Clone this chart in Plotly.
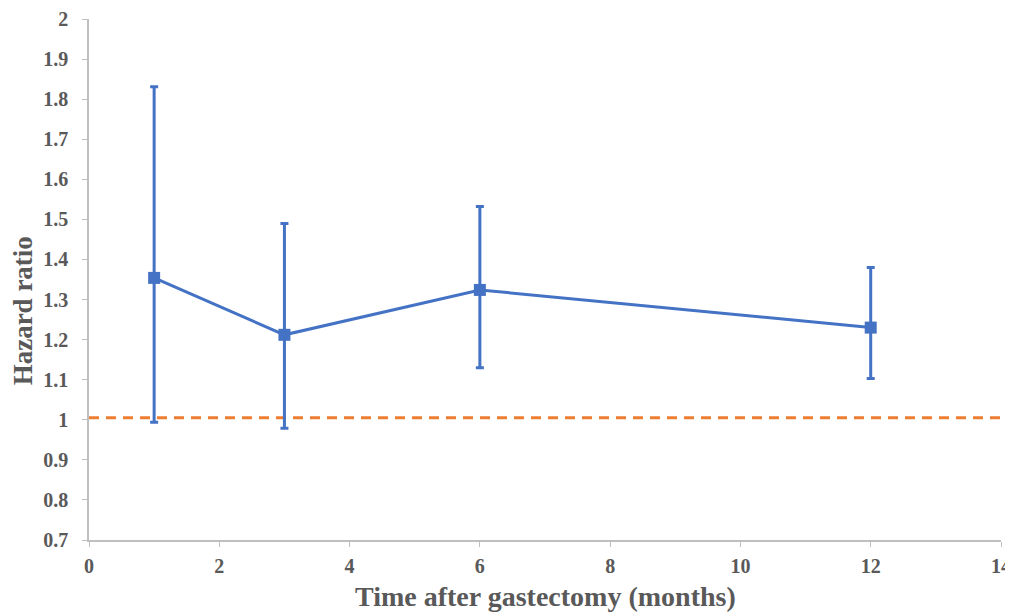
import plotly.graph_objects as go

months = [1, 3, 6, 12]
hazard_ratio = [1.354, 1.212, 1.324, 1.23]
ci_lower = [0.994, 0.979, 1.13, 1.103]
ci_upper = [1.831, 1.49, 1.532, 1.38]
reference_x = [0, 14]
reference_y = [1.005, 1.005]
y_ticks = [0.7, 0.8, 0.9, 1.0, 1.1, 1.2, 1.3, 1.4, 1.5, 1.6, 1.7, 1.8, 1.9, 2.0]
y_tick_labels = ["0.7", "0.8", "0.9", "1", "1.1", "1.2", "1.3", "1.4", "1.5", "1.6", "1.7", "1.8", "1.9", "2"]
x_ticks = [0, 2, 4, 6, 8, 10, 12, 14]
x_tick_labels = ["0", "2", "4", "6", "8", "10", "12", "14"]
x_title = "Time after gastectomy (months)"
y_title = "Hazard ratio"

blue = "#4472C4"
orange = "#ED7D31"
gray_text = "#595959"
axis_gray = "#BFBFBF"
font_family = "Liberation Serif"

fig = go.Figure()
fig.add_trace(go.Scatter(
    x=reference_x, y=reference_y, mode="lines",
    line=dict(color=orange, width=3, dash="10px,7px"),
    showlegend=False, hoverinfo="skip",
))
fig.add_trace(go.Scatter(
    x=months, y=hazard_ratio, mode="lines+markers",
    line=dict(color=blue, width=3),
    marker=dict(symbol="square", size=12, color=blue),
    error_y=dict(
        type="data", symmetric=False,
        array=[u - h for u, h in zip(ci_upper, hazard_ratio)],
        arrayminus=[h - l for h, l in zip(hazard_ratio, ci_lower)],
        color=blue, thickness=3, width=4,
    ),
    showlegend=False,
))

fig.update_layout(
    width=1005, height=606,
    margin=dict(l=81, r=12, t=11, b=74),
    plot_bgcolor="white", paper_bgcolor="white",
    font=dict(family=font_family, color=gray_text),
    annotations=[
        dict(text="<b>%s</b>" % x_title, xref="paper", yref="paper",
             x=0.5, y=-0.1094, xanchor="center", yanchor="middle", showarrow=False,
             font=dict(family=font_family, size=28, color=gray_text)),
        dict(text="<b>%s</b>" % y_title, xref="paper", yref="paper", textangle=-90,
             x=-0.072, y=0.4395, xanchor="center", yanchor="middle", showarrow=False,
             font=dict(family=font_family, size=27, color=gray_text)),
    ],
)
fig.update_xaxes(
    range=[0, 14], tickvals=x_ticks, ticktext=["<b>%s</b>" % t for t in x_tick_labels],
    showgrid=False, zeroline=False,
    showline=True, linecolor=axis_gray, linewidth=1.5,
    ticks="outside", ticklen=5, tickcolor=axis_gray,
    ticklabelstandoff=2, ticklabeloverflow="allow",
    automargin=False,
    tickfont=dict(family=font_family, size=20, color=gray_text),
)
fig.update_yaxes(
    range=[0.7, 2.0], tickvals=y_ticks, ticktext=["<b>%s</b>" % t for t in y_tick_labels],
    showgrid=False, zeroline=False,
    showline=True, linecolor=axis_gray, linewidth=1.5,
    ticks="outside", ticklen=5, tickcolor=axis_gray,
    ticklabelstandoff=10,
    automargin=False,
    tickfont=dict(family=font_family, size=20, color=gray_text),
)

fig.write_html("out.html")
